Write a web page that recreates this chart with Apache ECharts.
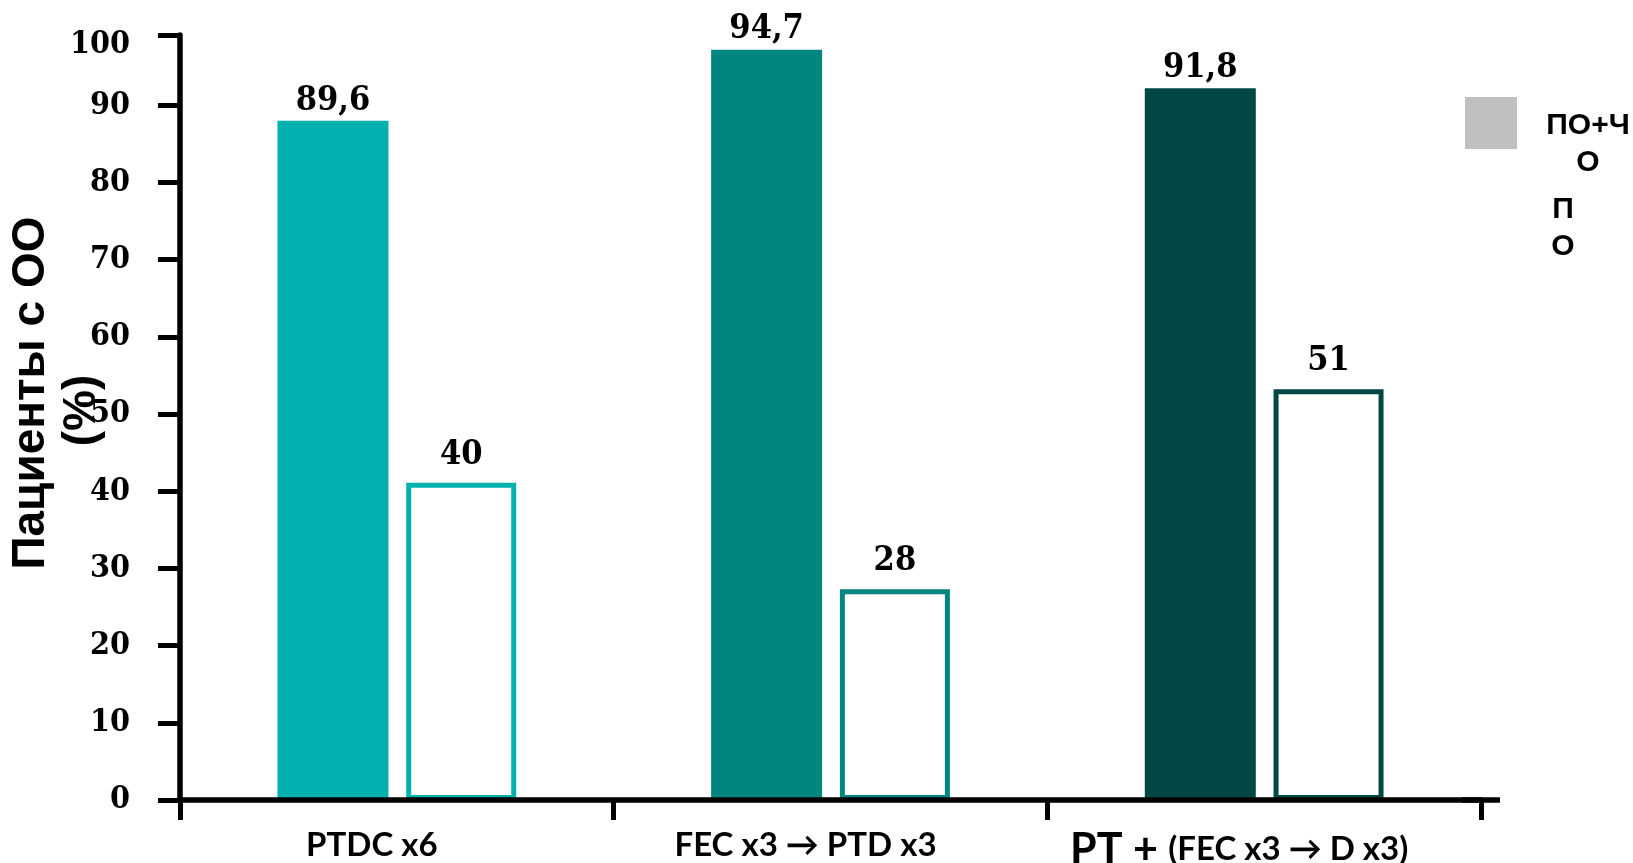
<!DOCTYPE html>
<html>
<head>
<meta charset="utf-8">
<script src="https://cdn.jsdelivr.net/npm/echarts@6/dist/echarts.min.js"></script>
<style>
html,body{margin:0;padding:0;background:#fff;}
#chart{width:1633px;height:863px;}
</style>
</head>
<body>
<div id="chart"></div>
<script>
const categories = ['PTDC x6', 'FEC x3 → PTD x3', 'PT + (FEC x3 → D x3)'];
const seriesNames = ['ПО+ЧО', 'ПО'];
const poChoValues = [88.0, 97.2, 92.2];
const poValues = [41.1, 27.3, 53.2];
const poChoLabels = ['89,6', '94,7', '91,8'];
const poLabels = ['40', '28', '51'];
const categoryColors = ['#00B1AF', '#00857F', '#014845'];
const legendLabels = ['ПО+Ч\nО', 'П\nО'];
const yNameLines = ['Пациенты с ОО', '(%)'];
const yMax = 99.1;
const yTopLabel = '100';

const chart = echarts.init(document.getElementById('chart'));
const serifNum = "'DejaVu Serif Condensed', 'DejaVu Serif', serif";
const sansFont = "'Liberation Sans', Arial, sans-serif";

function legendCfg(i, top, boxW, extraTop, iconStyle) {
  return {
    orient: 'vertical',
    left: 1465,
    top: top,
    padding: 0,
    icon: 'rect',
    itemWidth: 52,
    itemHeight: 52,
    data: [{ name: seriesNames[i], itemStyle: iconStyle }],
    formatter: function () { return '{a|' + legendLabels[i] + '}'; },
    textStyle: {
      fontFamily: sansFont, fontWeight: 'bold', fontSize: 30, lineHeight: 37, color: '#000',
      padding: [extraTop, 0, 0, 24],
      rich: {
        a: {
          width: boxW, align: 'center',
          fontFamily: sansFont,
          fontWeight: 'bold', fontSize: 30, lineHeight: 37, color: '#000'
        }
      }
    }
  };
}

const option = {
  backgroundColor: '#fff',
  animation: false,
  grid: { left: 180, right: 152, top: 35, bottom: 63, containLabel: false, outerBoundsMode: 'none' },
  legend: [
    legendCfg(0, 65, 84, 42, { color: '#C0C0C0', borderWidth: 0 }),
    legendCfg(1, 191, 34, 0, { color: 'rgba(0,0,0,0)', borderWidth: 0, opacity: 0 })
  ],
  xAxis: {
    type: 'category',
    data: categories,
    z: 5,
    axisLine: {
      lineStyle: { color: '#000', width: 5.5 },
      symbol: ['none', 'rect'],
      symbolSize: [5.5, 38]
    },
    axisTick: { show: true, length: 20, lineStyle: { color: '#000', width: 5 } },
    axisLabel: {
      margin: 29,
      padding: [0, 50, 0, 0],
      formatter: function (v) {
        const m = v.match(/^(PT \+)\s(.*)$/);
        return m ? '{big|' + m[1] + ' }{s|' + m[2] + '}' : '{n|' + v + '}';
      },
      rich: {
        n: { fontFamily: 'Lato, sans-serif', fontWeight: 'bold', fontSize: 33, color: '#000', verticalAlign: 'bottom' },
        s: { fontFamily: 'Lato, sans-serif', fontWeight: 'bold', fontSize: 33, color: '#000', verticalAlign: 'bottom', padding: [0, 0, 6, 0] },
        big: { fontFamily: 'Lato, sans-serif', fontWeight: 'bold', fontSize: 43, color: '#000', verticalAlign: 'bottom' }
      }
    },
    splitLine: { show: false }
  },
  yAxis: {
    type: 'value',
    min: 0,
    max: yMax,
    interval: 10,
    z: 5,
    name: '{a|' + yNameLines[0] + '}\n{b|' + yNameLines[1] + '}',
    nameLocation: 'middle',
    nameRotate: 90,
    nameGap: 72,
    nameMoveOverlap: false,
    nameTextStyle: {
      fontFamily: sansFont, fontWeight: 'bold', fontSize: 46, lineHeight: 51, color: '#000',
      padding: [0, 0, 0, 49],
      rich: {
        a: { fontFamily: sansFont, fontWeight: 'bold', fontSize: 46, lineHeight: 51, color: '#000' },
        b: { fontFamily: sansFont, fontWeight: 'bold', fontSize: 46, lineHeight: 51, color: '#000', padding: [0, 35, 0, 0] }
      }
    },
    axisLine: { show: true, lineStyle: { color: '#000', width: 5.5 } },
    axisTick: { show: true, length: 22, lineStyle: { color: '#000', width: 5 } },
    axisLabel: {
      margin: 50,
      showMaxLabel: true,
      showMinLabel: true,
      formatter: function (v) {
        return v >= yMax - 0.01 ? '{t|' + yTopLabel + '}' : '{n|' + v + '}';
      },
      rich: {
        n: { fontFamily: serifNum, fontWeight: 'bold', fontSize: 32, color: '#000' },
        t: { fontFamily: serifNum, fontWeight: 'bold', fontSize: 32, color: '#000', padding: [20, 0, 0, 0] }
      }
    },
    splitLine: { show: false }
  },
  series: [
    {
      name: seriesNames[0],
      type: 'bar',
      barWidth: 111,
      barGap: '16%',
      data: poChoValues.map((v, i) => ({ value: v, itemStyle: { color: categoryColors[i] } })),
      label: {
        show: true, position: 'top', distance: 3,
        formatter: p => poChoLabels[p.dataIndex],
        fontFamily: serifNum, fontWeight: 'bold', fontSize: 34, color: '#000'
      }
    },
    {
      name: seriesNames[1],
      type: 'bar',
      barWidth: 110,
      itemStyle: { color: '#fff', borderWidth: 5 },
      data: poValues.map((v, i) => ({ value: v, itemStyle: { color: '#fff', borderColor: categoryColors[i], borderWidth: 5 } })),
      label: {
        show: true, position: 'top', distance: 11,
        formatter: p => poLabels[p.dataIndex],
        fontFamily: serifNum, fontWeight: 'bold', fontSize: 34, color: '#000'
      }
    }
  ]
};
chart.setOption(option);
</script>
</body>
</html>
